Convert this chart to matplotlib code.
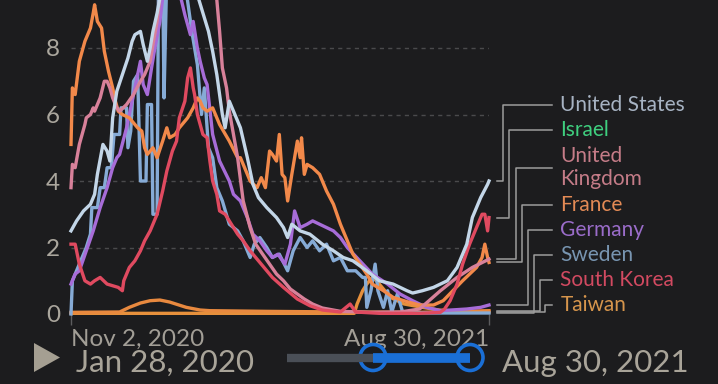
import matplotlib

matplotlib.use("Agg")
import matplotlib.pyplot as plt
import pandas as pd
from matplotlib.patches import Circle, Polygon
from matplotlib.transforms import blended_transform_factory

plt.rcParams["font.family"] = ["Lato", "DejaVu Sans"]

BG = "#1c1c1e"
START = pd.Timestamp("2020-11-02")
END = pd.Timestamp("2021-08-30")

# (days after Nov 2, 2020, daily new deaths per million, 7-day average)
united_states = [(0, 2.5), (4, 2.8), (9, 3.1), (14, 3.3), (17, 3.6), (19, 4.2), (23, 5.1), (26, 4.9), (28, 4.6),
                 (30, 5.9), (33, 6.7), (37, 7.2), (41, 7.7), (44, 8.2), (46, 8.4), (50, 8.5), (52, 8.1), (55, 7.6),
                 (57, 8.0), (59, 8.5), (62, 9.05), (64, 9.5), (71, 9.9), (78, 10.3), (86, 10.2), (91, 9.6),
                 (95, 9.05), (99, 8.5), (102, 7.9), (105, 7.2), (109, 6.0), (111, 5.6), (114, 6.4), (118, 6.0),
                 (122, 5.6), (127, 4.7), (131, 3.9), (135, 3.5), (141, 3.2), (148, 2.9), (153, 2.6), (156, 2.3),
                 (159, 2.7), (165, 2.5), (172, 2.4), (181, 2.1), (189, 1.9), (196, 1.7), (203, 1.6), (213, 1.3),
                 (222, 1.0), (232, 0.9), (242, 0.7), (246, 0.63), (253, 0.7), (261, 0.8), (271, 1.0), (278, 1.4),
                 (285, 2.1), (289, 2.9), (295, 3.5), (300, 3.9), (301, 4.0)]
israel = [(0, 2.1), (3, 2.1), (4, 1.9), (6, 1.5), (10, 1.0), (14, 0.9), (17, 1.0), (21, 1.1), (26, 0.9), (30, 0.85),
          (34, 0.8), (37, 0.7), (38, 1.0), (42, 1.4), (46, 1.6), (50, 1.9), (53, 2.2), (57, 2.5), (62, 3.0),
          (66, 3.7), (69, 4.3), (73, 4.9), (76, 5.2), (78, 5.9), (82, 6.4), (84, 7.1), (86, 7.4), (88, 6.8),
          (89, 6.6), (91, 6.0), (95, 5.4), (98, 5.3), (100, 4.6), (102, 4.0), (105, 3.6), (107, 3.1), (111, 3.0),
          (114, 2.8), (120, 2.4), (124, 2.2), (129, 1.9), (135, 1.6), (141, 1.3), (145, 1.1), (153, 0.8),
          (163, 0.45), (172, 0.25), (181, 0.12), (194, 0.06), (201, 0.3), (205, 0.06), (222, 0.02), (251, 0.02),
          (266, 0.05), (269, 0.15), (273, 0.4), (278, 0.9), (282, 1.5), (287, 2.1), (292, 2.6), (296, 3.0),
          (298, 3.0), (300, 2.5), (301, 2.9)]
united_kingdom = [(0, 3.8), (1, 4.5), (3, 4.4), (6, 5.1), (10, 5.7), (11, 5.9), (14, 6.0), (16, 6.2), (17, 6.1),
                  (21, 6.5), (24, 7.0), (26, 7.0), (28, 6.8), (30, 6.5), (33, 6.2), (35, 6.1), (40, 6.3), (45, 6.6),
                  (50, 7.0), (53, 7.2), (57, 7.6), (59, 8.1), (62, 8.8), (64, 9.5), (68, 11.0), (73, 14.0),
                  (78, 16.5), (86, 18.0), (93, 17.0), (99, 14.0), (102, 11.0), (105, 9.45), (107, 8.5), (109, 7.4),
                  (112, 6.8), (114, 6.1), (117, 5.4), (120, 4.7), (124, 3.4), (129, 2.6), (133, 2.1), (138, 1.8),
                  (143, 1.5), (148, 1.2), (153, 1.0), (158, 0.75), (163, 0.6), (168, 0.45), (174, 0.3), (181, 0.18),
                  (194, 0.08), (215, 0.05), (237, 0.06), (251, 0.15), (266, 0.7), (278, 1.1), (289, 1.4), (301, 1.65)]
france = [(0, 5.1), (1, 6.8), (3, 6.6), (6, 7.6), (10, 8.2), (14, 8.6), (16, 9.05), (17, 9.3), (19, 8.8), (22, 8.6),
          (24, 7.9), (27, 7.3), (30, 6.8), (32, 6.4), (34, 6.1), (37, 6.0), (42, 5.9), (48, 5.6), (51, 5.5), (53, 5.0),
          (55, 4.8), (59, 5.0), (62, 4.7), (66, 5.2), (69, 5.6), (71, 5.3), (75, 5.4), (78, 5.6), (84, 5.9),
          (88, 6.2), (91, 6.5), (93, 6.4), (95, 6.2), (98, 6.1), (102, 6.2), (107, 5.7), (114, 5.2), (120, 4.7),
          (122, 4.7), (129, 4.0), (134, 3.8), (137, 4.1), (140, 3.8), (143, 4.9), (145, 4.8), (148, 4.6), (150, 5.4),
          (152, 4.2), (154, 4.1), (156, 3.4), (159, 4.2), (161, 4.7), (163, 5.2), (165, 4.7), (166, 5.3), (168, 4.2),
          (170, 4.5), (174, 4.4), (179, 4.2), (184, 3.7), (189, 3.3), (194, 2.7), (199, 2.2), (203, 1.8), (208, 1.5),
          (213, 1.2), (217, 0.9), (225, 0.7), (232, 0.5), (242, 0.37), (251, 0.27), (261, 0.27), (268, 0.4),
          (275, 0.7), (282, 1.0), (287, 1.2), (292, 1.4), (296, 1.7), (298, 2.1), (300, 1.7), (301, 1.55)]
germany = [(0, 0.9), (3, 1.2), (6, 1.3), (11, 1.9), (16, 2.5), (21, 3.2), (26, 3.8), (30, 4.4), (33, 4.7), (35, 4.8),
           (40, 5.6), (44, 6.4), (48, 7.2), (50, 7.6), (52, 6.9), (55, 6.6), (58, 7.4), (60, 7.9), (64, 8.8),
           (66, 9.5), (71, 10.5), (75, 10.8), (78, 9.7), (82, 9.0), (86, 8.4), (88, 8.8), (91, 8.0), (93, 7.6),
           (96, 7.1), (98, 6.9), (102, 5.4), (107, 4.6), (114, 4.0), (117, 3.6), (122, 3.4), (127, 2.9), (131, 2.4),
           (136, 2.2), (141, 1.9), (145, 1.7), (149, 1.8), (154, 1.5), (158, 2.1), (161, 3.1), (165, 2.6),
           (170, 2.7), (174, 2.8), (179, 2.7), (184, 2.6), (189, 2.5), (194, 2.3), (199, 2.0), (208, 1.6),
           (217, 1.2), (228, 0.9), (237, 0.6), (246, 0.4), (256, 0.2), (266, 0.1), (285, 0.15), (295, 0.2),
           (301, 0.27)]
sweden = [(0, 0.0), (1, 1.0), (6, 1.5), (11, 2.0), (14, 2.4), (15, 3.2), (19, 3.2), (21, 3.8), (24, 3.8), (26, 4.4),
          (29, 4.4), (31, 5.4), (35, 5.4), (36, 6.2), (40, 6.2), (41, 5.0), (43, 5.5), (45, 7.0), (48, 7.2),
          (50, 4.0), (54, 4.0), (55, 6.3), (58, 6.3), (59, 3.0), (62, 3.0), (63, 10.0), (66, 10.2), (67, 6.5),
          (69, 10.3), (82, 10.0), (87, 8.5), (91, 7.5), (94, 6.0), (96, 6.8), (99, 5.0), (102, 4.7), (105, 3.8),
          (109, 3.4), (114, 2.7), (120, 2.5), (124, 2.2), (129, 1.7), (132, 2.1), (136, 2.3), (141, 2.0),
          (145, 1.7), (150, 1.8), (156, 1.3), (160, 1.9), (165, 2.3), (170, 2.0), (174, 2.2), (179, 1.9),
          (184, 2.1), (189, 1.6), (194, 1.7), (199, 1.3), (205, 1.3), (210, 1.1), (212, 1.1), (213, 0.2),
          (216, 0.7), (219, 1.5), (221, 0.7), (225, 0.2), (228, 0.7), (231, 0.06), (235, 0.6), (239, 0.03),
          (301, 0.03)]
south_korea = [(0, 0.05), (35, 0.06), (42, 0.2), (50, 0.33), (57, 0.4), (64, 0.42), (71, 0.36), (83, 0.2),
               (93, 0.12), (100, 0.1), (140, 0.08), (200, 0.06), (250, 0.05), (301, 0.1)]
taiwan = [(0, 0.02), (100, 0.02), (204, 0.02), (206, 0.3), (210, 0.7), (213, 0.9), (217, 1.1), (220, 1.0),
          (224, 0.8), (230, 0.5), (240, 0.3), (253, 0.2), (265, 0.12), (280, 0.08), (301, 0.06)]

labels = ["United States", "Israel", "United\nKingdom", "France", "Germany", "Sweden", "South Korea", "Taiwan"]
series = [united_states, israel, united_kingdom, france, germany, sweden, south_korea, taiwan]
line_colors = ["#c3d6e8", "#e04a60", "#d8819a", "#f2894a", "#a76cd8", "#86abd6", "#e8893f", "#e6903c"]
label_colors = ["#a7b3c3", "#3fcf7f", "#c57c88", "#e38a55", "#9a6cc9", "#7895b1", "#d24a61", "#d6954c"]
draw_order = [7, 6, 5, 4, 3, 2, 1, 0]

fig = plt.figure(figsize=(7.18, 3.84), dpi=100, facecolor=BG)
ax = fig.add_axes([71 / 718, 1 - 314 / 384, 418 / 718, 314 / 384])
ax.set_facecolor(BG)

for i in draw_order:
    frame = pd.DataFrame(series[i], columns=["day", "value"])
    dates = START + pd.to_timedelta(frame["day"], unit="D")
    ax.plot(dates, frame["value"], color=line_colors[i], lw=2.4, clip_on=False, solid_joinstyle="round")

ax.set_xlim(START, END)
ax.set_ylim(0, 314 / 33.25)
for side in ax.spines.values():
    side.set_visible(False)

ax.set_yticks([0, 2, 4, 6, 8])
ax.set_yticklabels(["0", "2", "4", "6", "8"])
ax.tick_params(axis="y", length=0, pad=8, labelsize=17.5, labelcolor="#aaa69d")
ax.grid(axis="y", color="#4a4a4c", lw=1, linestyle=(0, (3, 3)))
ax.set_axisbelow(True)

ax.set_xticks([START, END])
ax.set_xticklabels(["Nov 2, 2020", "Aug 30, 2021"])
ax.tick_params(axis="x", length=8, width=1, color="#5c5c5e", pad=3, labelsize=17.5, labelcolor="#a29e96")
tick_labels = ax.get_xticklabels()
tick_labels[0].set_ha("left")
tick_labels[1].set_ha("right")

# end-of-line labels with connectors
trans = blended_transform_factory(ax.transAxes, ax.transData)
px_per_unit = 33.25
slot_top = (314 - 105) / px_per_unit
slot_step = 25 / px_per_unit
slots = [0, 1, 2.5, 4, 5, 6, 7, 8]
elbow_x = [1.0335, 1.048, 1.0646, 1.079, 1.093, 1.1077, 1.122, 1.134]
for i, name in enumerate(labels):
    label_y = slot_top - slots[i] * slot_step
    end_value = series[i][-1][1]
    ax.plot([1.151, elbow_x[i], elbow_x[i], 1.019], [label_y, label_y, end_value, end_value],
            transform=trans, color="#9c9c9c", lw=1.1, clip_on=False)
    ax.text(1.171, label_y, name, transform=trans, color=label_colors[i], fontsize=15,
            va="center", ha="left", linespacing=1.2)

# timeline control overlay
ov = fig.add_axes([0, 0, 1, 1])
ov.set_xlim(0, 718)
ov.set_ylim(384, 0)
ov.axis("off")
ov.add_patch(Polygon([(34, 343), (34, 372), (60, 357.5)], closed=True, fc="#a59f92", ec="none"))
ov.text(76, 372, "Jan 28, 2020", fontsize=22.5, color="#a9a499", ha="left", va="baseline")
ov.text(502, 372, "Aug 30, 2021", fontsize=22.5, color="#a9a499", ha="left", va="baseline")
ov.plot([287, 373], [357.5, 357.5], color="#4a4f57", lw=6, solid_capstyle="butt")
ov.plot([373, 470], [357.5, 357.5], color="#1a6fd6", lw=7, solid_capstyle="butt")
for cx in (373, 470):
    ov.add_patch(Circle((cx, 357.5), 13, fc=BG, ec="#1a6fd6", lw=2.6))

fig.savefig("out.png", dpi=100, facecolor=BG)
